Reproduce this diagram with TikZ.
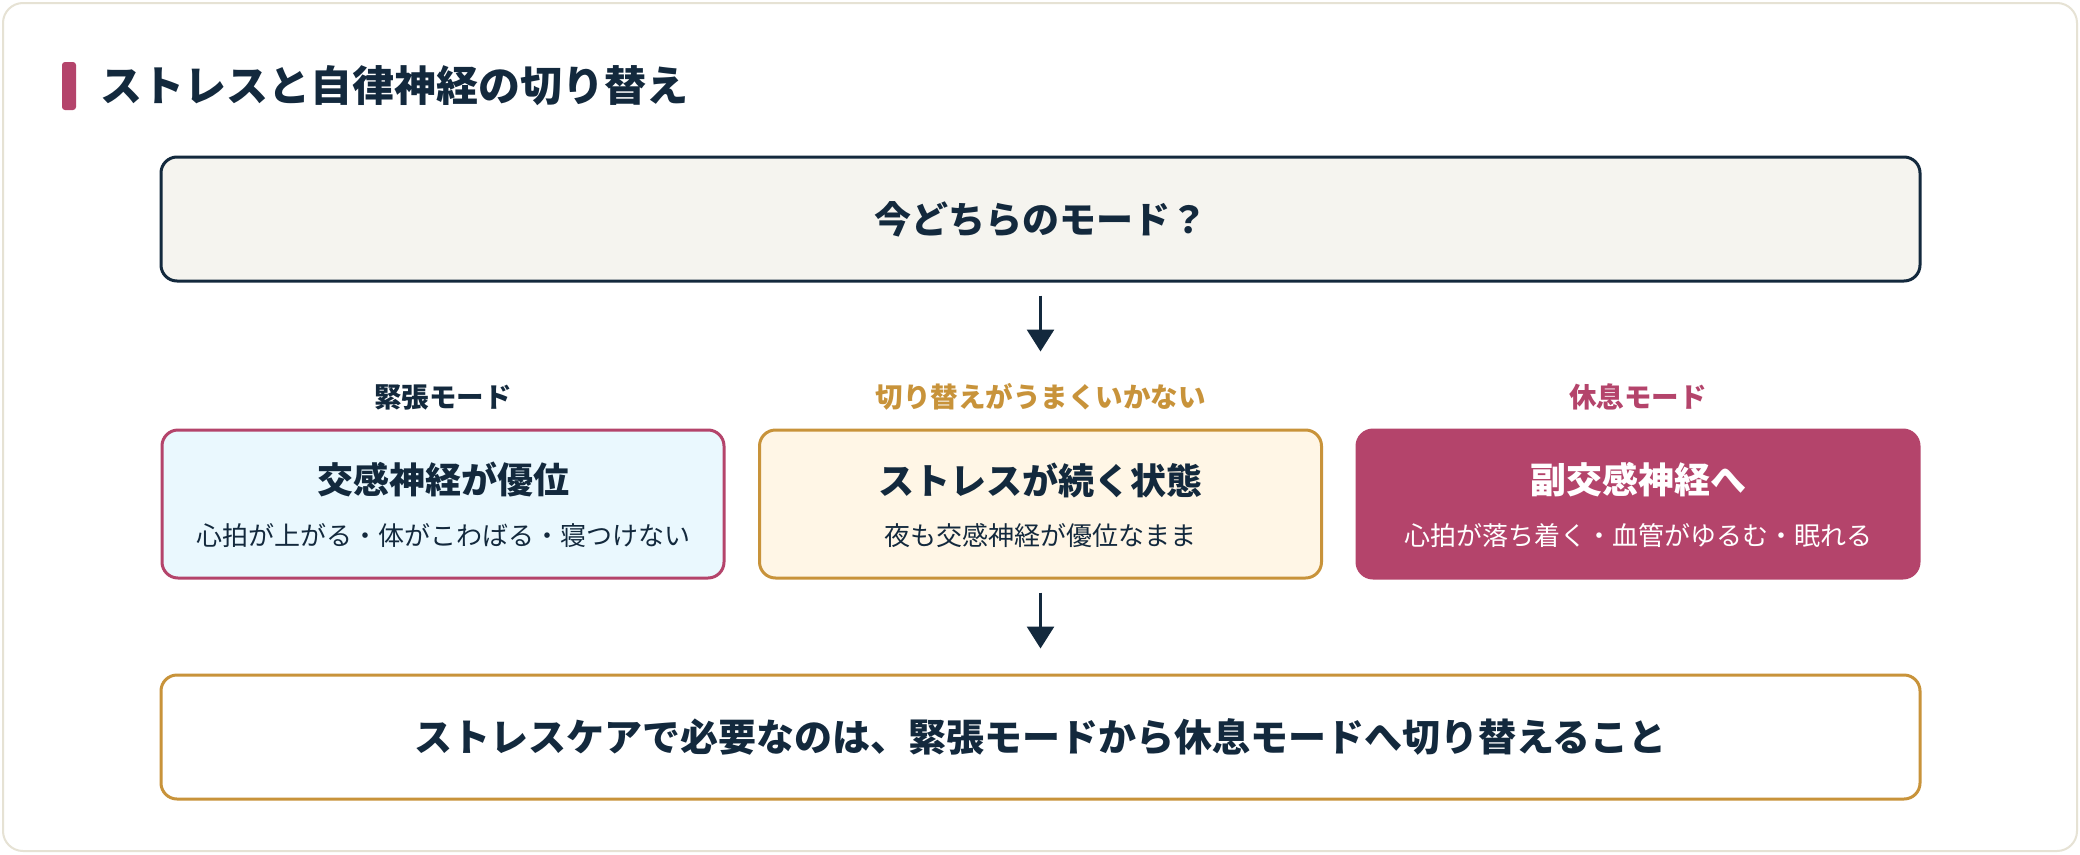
\documentclass[tikz,border=0pt]{standalone}
\usepackage{fontspec}
\setmainfont{Noto Sans CJK JP}
\usetikzlibrary{arrows.meta}
\definecolor{navy}{HTML}{13293D}
\definecolor{rose}{HTML}{B4446B}
\definecolor{gold}{HTML}{C8933A}
\definecolor{paper}{HTML}{F5F4EF}
\definecolor{frame}{HTML}{E6E2D4}
\definecolor{skyfill}{HTML}{EAF8FE}
\definecolor{creamfill}{HTML}{FFF6E6}
\tikzset
 {x = 1pt, y = -1pt,                       % one unit is one pixel, y runs down
  > = {Triangle[width=27pt,length=22pt]},  % solid triangular heads
  flow/.style = {->, draw=navy, line width=3pt},            % the down arrows
  panel/.style =              % every rounded box of the diagram uses this one
   {rounded corners=16pt, line width=3pt, inner sep=0pt,
    minimum width=#1, minimum height=124pt
   },
  panel/.default = 1759pt,
  modebox/.style = {panel=562pt, minimum height=148pt},     % the three modes
  head/.style = {font=\fontsize{36}{42}\selectfont\bfseries, inner sep=0pt},
  sub/.style = {font=\fontsize{26}{30}\selectfont, inner sep=0pt},
  tag/.style = {font=\fontsize{27.5}{32}\selectfont\bfseries, inner sep=0pt}
 }
\begin{document}
\begin{tikzpicture}
    \useasboundingbox (0,0) rectangle (2080,854);
    \fill[white] (0,0) rectangle (2080,854);
    \draw[frame, line width=2pt, fill=white, rounded corners=20pt] (3,3) rectangle (2077,851);
    % heading
    \fill[rose, rounded corners=3pt] (62,62) rectangle (76,110);
    \node[anchor=west, inner sep=0pt, text=navy, font=\fontsize{42}{48}\selectfont\bfseries]
        (title) at (100,86) {ストレスと自律神経の切り替え};
    % question
    \node[panel, draw=navy, fill=paper, text=navy, font=\fontsize{37}{44}\selectfont\bfseries]
        (ask) at (1040.5,219) {今どちらのモード？};
    % the three modes
    \node[modebox, draw=rose, fill=skyfill] (tense) at (443,504) {};
    \node[modebox, draw=gold, fill=creamfill] (stuck) at (1040.5,504) {};
    \node[modebox, draw=rose, fill=rose] (rest) at (1638,504) {};
    \node[tag, text=navy] (tensetag) at (443,397) {緊張モード};
    \node[tag, text=gold] (stucktag) at (1040.5,397) {切り替えがうまくいかない};
    \node[tag, text=rose] (resttag) at (1638,397) {休息モード};
    \node[head, text=navy] (tensehead) at ([yshift=24pt]tense.center) {交感神経が優位};
    \node[sub, text=navy] (tensesub) at ([yshift=-32pt]tense.center) {心拍が上がる・体がこわばる・寝つけない};
    \node[head, text=navy] (stuckhead) at ([yshift=24pt]stuck.center) {ストレスが続く状態};
    \node[sub, text=navy] (stucksub) at ([yshift=-32pt]stuck.center) {夜も交感神経が優位なまま};
    \node[head, text=white] (resthead) at ([yshift=24pt]rest.center) {副交感神経へ};
    \node[sub, text=white] (restsub) at ([yshift=-32pt]rest.center) {心拍が落ち着く・血管がゆるむ・眠れる};
    % conclusion
    \node[panel, draw=gold, fill=white, text=navy, font=\fontsize{38}{44}\selectfont\bfseries]
        (care) at (1040.5,737) {ストレスケアで必要なのは、緊張モードから休息モードへ切り替えること};
    \draw[flow, shorten <=13pt, shorten >=77pt] (ask.south) -- (stuck.north);
    \draw[flow, shorten <=13pt, shorten >=25pt] (stuck.south) -- (care.north);
\end{tikzpicture}
\end{document}
